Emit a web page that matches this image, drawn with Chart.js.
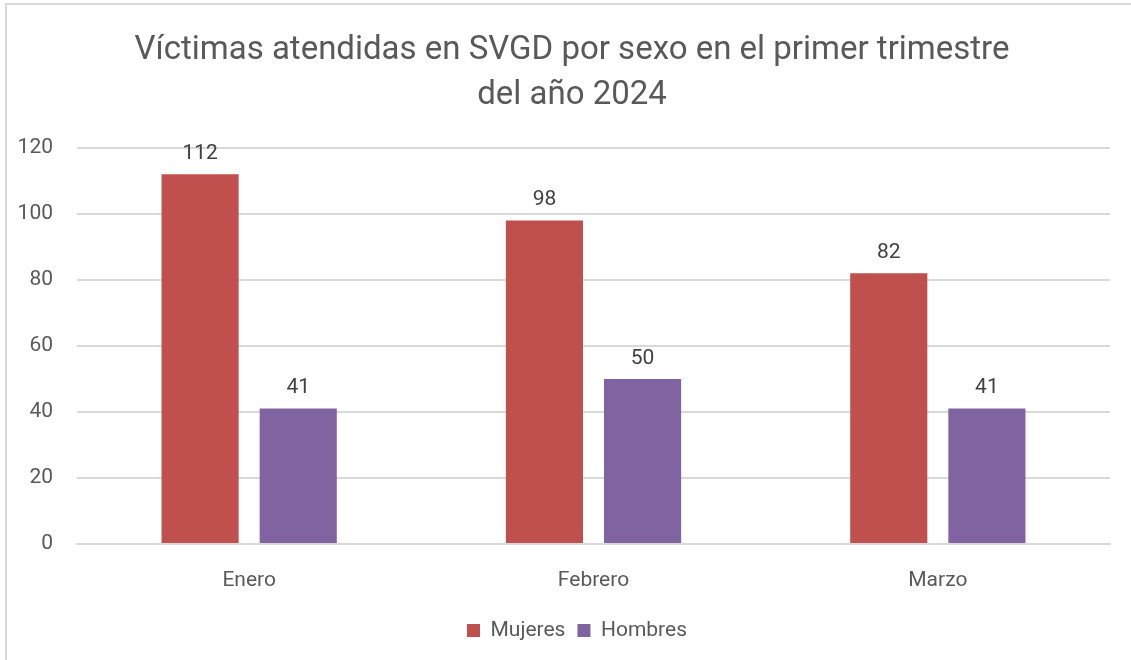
<!DOCTYPE html>
<html>
<head>
<meta charset="utf-8">
<script src="https://cdn.jsdelivr.net/npm/chart.js@4"></script>
<style>
  body { margin: 0; background: #fff; }
  #wrap { position: relative; width: 1131px; height: 660px; }
</style>
</head>
<body>
<div id="wrap"><canvas id="chart" width="1131" height="660"></canvas></div>
<script>
// datos del gráfico
const meses = ["Enero", "Febrero", "Marzo"];
const mujeres = [112, 98, 82];
const hombres = [41, 50, 41];
const tituloLineas = ["Víctimas atendidas en SVGD por sexo en el primer trimestre", "del año 2024"];

const FONT = "Roboto, 'Liberation Sans', sans-serif";

// borde gris del marco
const marco = {
    id: "marco",
    beforeDraw(c) {
        const ctx = c.ctx;
        ctx.save();
        ctx.fillStyle = "#fff";
        ctx.fillRect(0, 0, c.width, c.height);
        ctx.strokeStyle = "#d9d9d9";
        ctx.lineWidth = 2;
        ctx.strokeRect(6, 4, 1140, 700);
        ctx.restore();
    }
};

// titulo y leyenda un poco a la derecha, como en el original
const desplazar = {
    id: "desplazar",
    afterLayout(c) {
        if (c.titleBlock) { c.titleBlock.left += 17; c.titleBlock.right += 17; }
        if (c.legend) { c.legend.left += 22; c.legend.right += 22; }
    }
};

// etiquetas de valores encima de cada barra
const etiquetas = {
    id: "etiquetas",
    afterDatasetsDraw(c) {
        const ctx = c.ctx;
        ctx.save();
        ctx.font = "21px " + FONT;
        ctx.fillStyle = "#404040";
        ctx.textAlign = "center";
        ctx.textBaseline = "bottom";
        c.data.datasets.forEach((ds, i) => {
            c.getDatasetMeta(i).data.forEach((bar, j) => {
                ctx.fillText(ds.data[j], bar.x, bar.y - 10);
            });
        });
        ctx.restore();
    }
};

new Chart(document.getElementById("chart"), {
    type: "bar",
    data: {
        labels: meses,
        datasets: [
            { label: "Mujeres", data: mujeres, backgroundColor: "#c0504d" },
            { label: "Hombres", data: hombres, backgroundColor: "#8064a2" }
        ]
    },
    options: {
        responsive: false,
        animation: false,
        layout: { padding: { left: 0, right: 21, top: 0, bottom: 9 } },
        datasets: { bar: { categoryPercentage: 0.57, barPercentage: 0.786 } },
        plugins: {
            title: {
                display: true,
                text: tituloLineas,
                color: "#595959",
                font: { family: FONT, size: 33, weight: "normal", lineHeight: 1.36 },
                padding: { top: 28, bottom: 30 }
            },
            legend: {
                position: "bottom",
                labels: {
                    color: "#595959",
                    font: { family: FONT, size: 21 },
                    boxWidth: 13,
                    boxHeight: 13,
                    padding: 12
                }
            },
            tooltip: { enabled: false }
        },
        scales: {
            x: {
                grid: { display: false },
                border: { color: "#d9d9d9", width: 2 },
                ticks: { color: "#595959", font: { family: FONT, size: 21 }, padding: 16 },
                afterFit(s) { s.height = 64; }
            },
            y: {
                min: 0,
                max: 120,
                ticks: { stepSize: 20, color: "#595959", font: { family: FONT, size: 21 }, padding: 24 },
                grid: { color: "#d9d9d9", lineWidth: 2, drawTicks: false },
                border: { display: false },
                afterFit(s) { s.width = 77; }
            }
        }
    },
    plugins: [marco, desplazar, etiquetas]
});
</script>
</body>
</html>
